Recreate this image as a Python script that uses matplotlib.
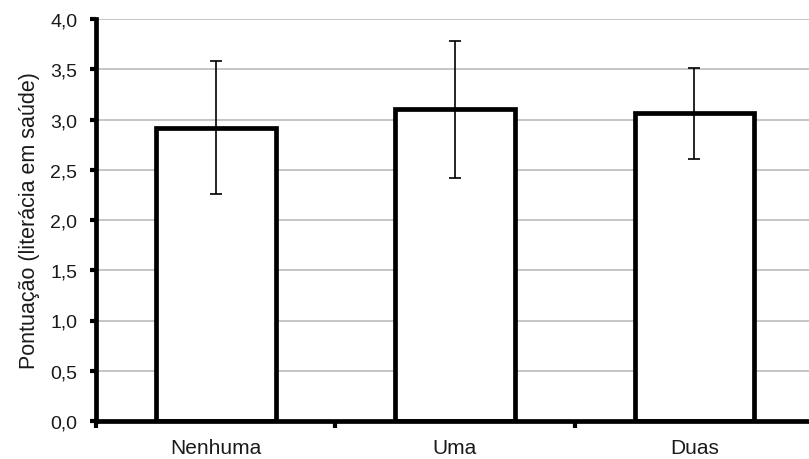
import numpy as np
import matplotlib.pyplot as plt
from matplotlib.ticker import FuncFormatter, MultipleLocator

plt.rcParams['font.family'] = ['Liberation Sans', 'DejaVu Sans']

categories = ['Nenhuma', 'Uma', 'Duas']
scores = [2.92, 3.10, 3.06]
errors = [0.66, 0.68, 0.45]

W, H = 809, 460
fig = plt.figure(figsize=(W / 100, H / 100), dpi=100)
ax = fig.add_axes([96 / W, 38 / H, 718 / W, 402 / H])

x = np.arange(len(categories))
ax.bar(x, scores, width=0.5, color='white', edgecolor='black', linewidth=3.4, zorder=2)
ax.errorbar(x, scores, yerr=errors, fmt='none', ecolor='black', elinewidth=1.2,
            capsize=4.5, capthick=1.2, zorder=3)

ax.set_xlim(-0.5, len(categories) - 0.5)
ax.set_ylim(0, 4.0)
ax.yaxis.set_major_locator(MultipleLocator(0.5))
ax.yaxis.set_major_formatter(FuncFormatter(lambda v, p: f'{v:.1f}'.replace('.', ',')))
ax.grid(axis='y', color='#c0c0c0', linewidth=1.3, zorder=0)
ax.set_axisbelow(True)

# category ticks sit between the bars
ax.set_xticks(np.arange(-0.5, len(categories), 1.0))
ax.set_xticklabels([])
ax.set_xticks(x, minor=True)
ax.set_xticklabels(categories, minor=True)
ax.tick_params(axis='x', which='minor', length=0, pad=12, labelsize=15, labelcolor='#1a1a1a')
ax.tick_params(axis='x', which='major', length=5, width=3, direction='out')
ax.tick_params(axis='y', length=4.5, width=3, direction='out', pad=9, labelsize=14, labelcolor='#1a1a1a')

for side in ['top', 'right']:
    ax.spines[side].set_visible(False)
for side in ['left', 'bottom']:
    ax.spines[side].set_linewidth(3.4)

ax.set_ylabel('Pontuação (literácia em saúde)', fontsize=15.5, color='#1a1a1a', labelpad=7)

fig.savefig('out.png', dpi=100)
